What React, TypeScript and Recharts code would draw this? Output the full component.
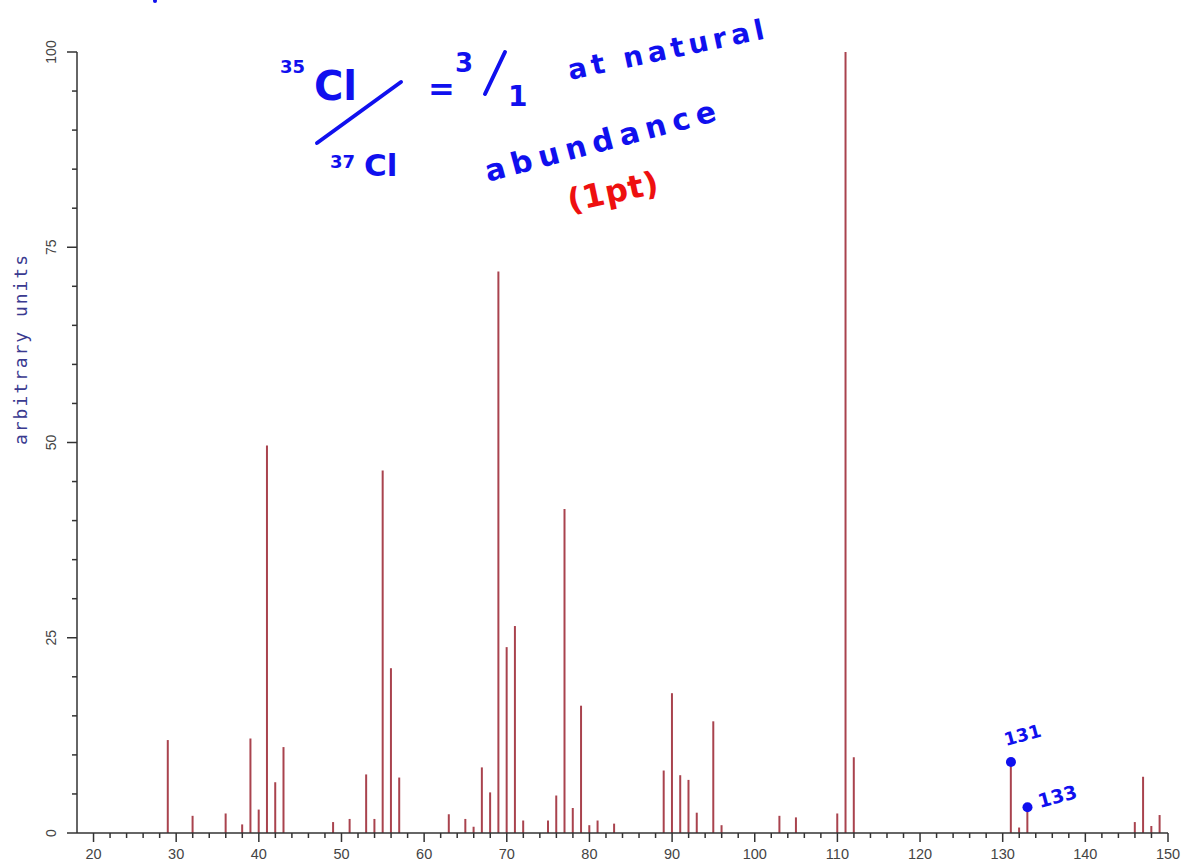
import React from "react";
import { ComposedChart, Bar, Scatter, XAxis, YAxis } from "recharts";

// m/z of each peak and its height (arbitrary units)
const mz = [
  29, 32, 36, 38, 39, 40, 41, 42, 43, 49, 51, 53, 54, 55, 56, 57, 63, 65, 66, 67, 68, 69, 70, 71, 72, 75,
  76, 77, 78, 79, 80, 81, 83, 89, 90, 91, 92, 93, 95, 96, 103, 105, 110, 111, 112, 131, 132, 133, 146, 147,
  148, 149,
];
const intensity = [
  11.9, 2.2, 2.5, 1.1, 12.1, 3.0, 49.6, 6.5, 11.0, 1.4, 1.8, 7.5, 1.8, 46.4, 21.1, 7.1, 2.4, 1.8, 0.8, 8.4,
  5.2, 71.9, 23.8, 26.5, 1.6, 1.6, 4.8, 41.5, 3.2, 16.3, 1.0, 1.6, 1.2, 8.0, 17.9, 7.4, 6.8, 2.6, 14.3, 1.0,
  2.2, 2.0, 2.5, 100, 9.7, 9.1, 0.7, 3.2, 1.4, 7.2, 0.9, 2.3,
];

// hand-marked peaks (chlorine isotope pair)
const markedMz = [131, 133];
const markedValue = [9.1, 3.3];

const xMajor = [20, 30, 40, 50, 60, 70, 80, 90, 100, 110, 120, 130, 140, 150];
const yMajor = [0, 25, 50, 75, 100];
const xTicks = Array.from({ length: 66 }, (_, i) => 20 + i * 2);
const yTicks = Array.from({ length: 21 }, (_, i) => i * 5);

const peaks = mz.map((m, i) => ({ mz: m, value: intensity[i] }));
const marks = markedMz.map((m, i) => ({ mz: m, value: markedValue[i] }));

const AXIS = "#333";
const BLUE = "#1010ee";

const XTick = ({ x, y, payload }: any) => {
  const major = xMajor.includes(payload.value);
  return (
    <g>
      <line x1={x} x2={x} y1={y} y2={y + (major ? 9 : 5)} stroke={AXIS} strokeWidth={1.5} />
      {major && (
        <text x={x} y={y + 26} textAnchor="middle" fontSize={14.5} fill="#444" fontFamily="Liberation Sans, Arial, sans-serif">
          {payload.value}
        </text>
      )}
    </g>
  );
};

const YTick = ({ x, y, payload }: any) => {
  const major = yMajor.includes(payload.value);
  return (
    <g>
      <line x1={x - (major ? 10 : 5)} x2={x} y1={y} y2={y} stroke={AXIS} strokeWidth={1.5} />
      {major && (
        <text
          x={x - 21}
          y={y}
          transform={`rotate(-90 ${x - 21} ${y})`}
          textAnchor="middle"
          fontSize={14}
          fill="#444"
          fontFamily="Liberation Sans, Arial, sans-serif"
        >
          {payload.value}
        </text>
      )}
    </g>
  );
};

const Dot = ({ cx, cy }: any) => <circle cx={cx} cy={cy} r={5} fill={BLUE} />;

const hand = { fill: BLUE, fontFamily: "DejaVu Sans, sans-serif", fontWeight: 700 } as const;

export default function App() {
  return (
    <div style={{ position: "absolute", left: 0, top: 0, width: 1190, height: 864, background: "#fff" }}>
      <ComposedChart width={1190} height={864} data={peaks} margin={{ top: 52, right: 22, bottom: 0, left: 0 }}>
        <XAxis
          dataKey="mz"
          type="number"
          domain={[18, 150]}
          ticks={xTicks}
          interval={0}
          tick={<XTick />}
          tickLine={false}
          tickSize={0}
          tickMargin={0}
          height={31}
          stroke={AXIS}
          strokeWidth={1.5}
          allowDataOverflow
        />
        <YAxis
          type="number"
          domain={[0, 100]}
          ticks={yTicks}
          interval={0}
          tick={<YTick />}
          tickLine={false}
          tickSize={0}
          tickMargin={0}
          width={77}
          stroke={AXIS}
          strokeWidth={1.5}
        />
        <Bar dataKey="value" fill="#a9434e" barSize={2} isAnimationActive={false} />
        <Scatter data={marks} dataKey="value" shape={<Dot />} isAnimationActive={false} />
      </ComposedChart>

      <svg width={1190} height={864} style={{ position: "absolute", left: 0, top: 0, pointerEvents: "none" }}>
        <text
          x={27}
          y={350}
          transform="rotate(-90 27 350)"
          textAnchor="middle"
          fontSize={18}
          textLength={190}
          fill="#3a3a90"
          fontFamily="DejaVu Sans Mono, monospace"
        >
          arbitrary units
        </text>

        <circle cx={155} cy={1} r={2} fill={BLUE} />

        <text x={280} y={73} fontSize={18} {...hand}>35</text>
        <text x={314} y={100} fontSize={40} {...hand}>Cl</text>
        <line x1={317} y1={143} x2={401} y2={82} stroke={BLUE} strokeWidth={4} strokeLinecap="round" />
        <text x={330} y={168} fontSize={18} {...hand}>37</text>
        <text x={364} y={176} fontSize={31} {...hand}>Cl</text>
        <text x={428} y={100} fontSize={32} {...hand}>=</text>
        <text x={455} y={72} fontSize={26} {...hand}>3</text>
        <line x1={485} y1={94} x2={505} y2={52} stroke={BLUE} strokeWidth={4} strokeLinecap="round" />
        <text x={508} y={106} fontSize={28} {...hand}>1</text>

        <text x={570} y={80} fontSize={28} textLength={200} transform="rotate(-12 570 80)" {...hand}>
          at natural
        </text>
        <text x={488} y={182} fontSize={30} textLength={238} transform="rotate(-15 488 182)" {...hand}>
          abundance
        </text>
        <text
          x={570}
          y={212}
          fontSize={32}
          textLength={92}
          transform="rotate(-12 570 212)"
          fill="#ee1010"
          fontWeight={700}
          fontFamily="DejaVu Sans, sans-serif"
        >
          (1pt)
        </text>

        <text x={1006} y={746} fontSize={18} transform="rotate(-15 1006 746)" {...hand}>
          131
        </text>
        <text x={1040} y={808} fontSize={19} transform="rotate(-15 1040 808)" {...hand}>
          133
        </text>
      </svg>
    </div>
  );
}
